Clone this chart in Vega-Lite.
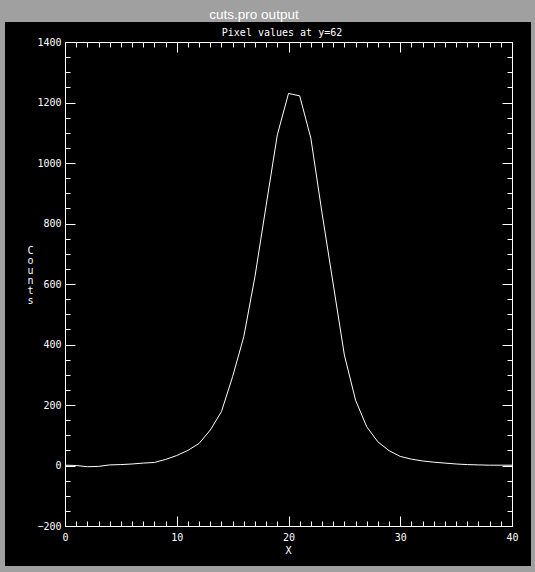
{
  "$schema": "https://vega.github.io/schema/vega-lite/v6.json",
  "width": 447,
  "height": 484,
  "autosize": {"type": "none"},
  "padding": {"left": 65, "top": 42, "right": 23, "bottom": 46},
  "background": "#a0a0a0",
  "title": {
    "text": "cuts.pro output",
    "font": "Liberation Sans",
    "fontSize": 13.5,
    "fontWeight": "normal",
    "color": "white",
    "anchor": "middle",
    "frame": "group",
    "dx": -34.5,
    "dy": 20,
    "baseline": "alphabetic",
    "offset": 10
  },
  "datasets": {
    "cut": [
      {"X": 0, "Counts": 1}, {"X": 1, "Counts": 0}, {"X": 2, "Counts": -4}, {"X": 3, "Counts": -3},
      {"X": 4, "Counts": 2}, {"X": 5, "Counts": 3}, {"X": 6, "Counts": 5}, {"X": 7, "Counts": 8},
      {"X": 8, "Counts": 10}, {"X": 9, "Counts": 20}, {"X": 10, "Counts": 33}, {"X": 11, "Counts": 50},
      {"X": 12, "Counts": 73}, {"X": 13, "Counts": 117}, {"X": 14, "Counts": 178}, {"X": 15, "Counts": 294},
      {"X": 16, "Counts": 426}, {"X": 17, "Counts": 625}, {"X": 18, "Counts": 860}, {"X": 19, "Counts": 1093},
      {"X": 20, "Counts": 1230}, {"X": 21, "Counts": 1222}, {"X": 22, "Counts": 1082}, {"X": 23, "Counts": 835},
      {"X": 24, "Counts": 600}, {"X": 25, "Counts": 365}, {"X": 26, "Counts": 216}, {"X": 27, "Counts": 128},
      {"X": 28, "Counts": 78}, {"X": 29, "Counts": 49}, {"X": 30, "Counts": 30}, {"X": 31, "Counts": 21},
      {"X": 32, "Counts": 15}, {"X": 33, "Counts": 11}, {"X": 34, "Counts": 8}, {"X": 35, "Counts": 5},
      {"X": 36, "Counts": 3}, {"X": 37, "Counts": 2}, {"X": 38, "Counts": 1}, {"X": 39, "Counts": 1},
      {"X": 40, "Counts": 1}
    ]
  },
  "layer": [
    {
      "data": {"values": [{}]},
      "mark": {"type": "rect", "fill": "black", "clip": false},
      "encoding": {
        "x": {"datum": -5.37, "type": "quantitative", "scale": {"domain": [0, 40], "nice": false, "zero": false}, "axis": null},
        "x2": {"datum": 41.7},
        "y": {"datum": 1466, "type": "quantitative", "scale": {"domain": [-200, 1400], "nice": false, "zero": false}, "axis": null},
        "y2": {"datum": -332}
      }
    },
    {
      "data": {"name": "cut"},
      "mark": {"type": "line", "stroke": "white", "strokeWidth": 1},
      "encoding": {
        "x": {
          "field": "X", "type": "quantitative",
          "scale": {"domain": [0, 40], "nice": false, "zero": false},
          "axis": {
            "orient": "bottom",
            "zindex": 1,
            "values": [0,1,2,3,4,5,6,7,8,9,10,11,12,13,14,15,16,17,18,19,20,21,22,23,24,25,26,27,28,29,30,31,32,33,34,35,36,37,38,39,40],
            "format": "d",
            "labelExpr": "datum.value % 10 === 0 ? datum.label : ''",
            "tickSize": {"condition": {"test": "datum.value % 10 === 0", "value": -10}, "value": -5},
            "labelPadding": 16,
            "labelBaseline": "top",
            "labelAlign": "center",
            "labelFlush": false,
            "labelOverlap": false,
            "labelBound": false,
            "title": "X",
            "titleX": 223,
            "titleY": 19,
            "titleBaseline": "top",
            "titleAlign": "center"
          }
        },
        "y": {
          "field": "Counts", "type": "quantitative",
          "scale": {"domain": [-200, 1400], "nice": false, "zero": false},
          "axis": {
            "orient": "left",
            "zindex": 1,
            "values": [-200,-150,-100,-50,0,50,100,150,200,250,300,350,400,450,500,550,600,650,700,750,800,850,900,950,1000,1050,1100,1150,1200,1250,1300,1350,1400],
            "format": "d",
            "labelExpr": "datum.value % 200 === 0 ? datum.label : ''",
            "tickSize": {"condition": {"test": "datum.value % 200 === 0", "value": -10}, "value": -5},
            "labelPadding": 14,
            "labelAlign": "right",
            "labelBaseline": "middle",
            "labelFlush": false,
            "labelOverlap": false,
            "labelBound": false,
            "title": ["C", "o", "u", "n", "t", "s"],
            "titleAngle": 0,
            "titleX": -35,
            "titleY": 211,
            "titleBaseline": "alphabetic",
            "titleAlign": "center",
            "titleLineHeight": 10
          }
        }
      }
    },
    {
      "data": {"name": "cut"},
      "mark": {"type": "line", "strokeOpacity": 0},
      "encoding": {
        "x": {
          "field": "X", "type": "quantitative",
          "scale": {"domain": [0, 40], "nice": false, "zero": false},
          "axis": {
            "orient": "top",
            "zindex": 1,
            "values": [0,1,2,3,4,5,6,7,8,9,10,11,12,13,14,15,16,17,18,19,20,21,22,23,24,25,26,27,28,29,30,31,32,33,34,35,36,37,38,39,40],
            "labels": false,
            "tickSize": {"condition": {"test": "datum.value % 10 === 0", "value": -10}, "value": -5},
            "title": "Pixel values at y=62",
            "titleX": 216.5,
            "titleY": -7,
            "titleBaseline": "alphabetic",
            "titleAlign": "center"
          }
        },
        "y": {
          "field": "Counts", "type": "quantitative",
          "scale": {"domain": [-200, 1400], "nice": false, "zero": false},
          "axis": {
            "orient": "right",
            "zindex": 1,
            "values": [-200,-150,-100,-50,0,50,100,150,200,250,300,350,400,450,500,550,600,650,700,750,800,850,900,950,1000,1050,1100,1150,1200,1250,1300,1350,1400],
            "labels": false,
            "tickSize": {"condition": {"test": "datum.value % 200 === 0", "value": -10}, "value": -5},
            "title": null
          }
        }
      }
    }
  ],
  "resolve": {"axis": {"x": "independent", "y": "independent"}},
  "config": {
    "view": {"stroke": null},
    "axis": {
      "domainColor": "white",
      "domainWidth": 1,
      "tickColor": "white",
      "tickWidth": 1,
      "labelColor": "white",
      "titleColor": "white",
      "labelFont": "DejaVu Sans Mono",
      "labelFontSize": 10,
      "titleFont": "DejaVu Sans Mono",
      "titleFontSize": 10,
      "titleFontWeight": "normal",
      "grid": false
    }
  }
}
